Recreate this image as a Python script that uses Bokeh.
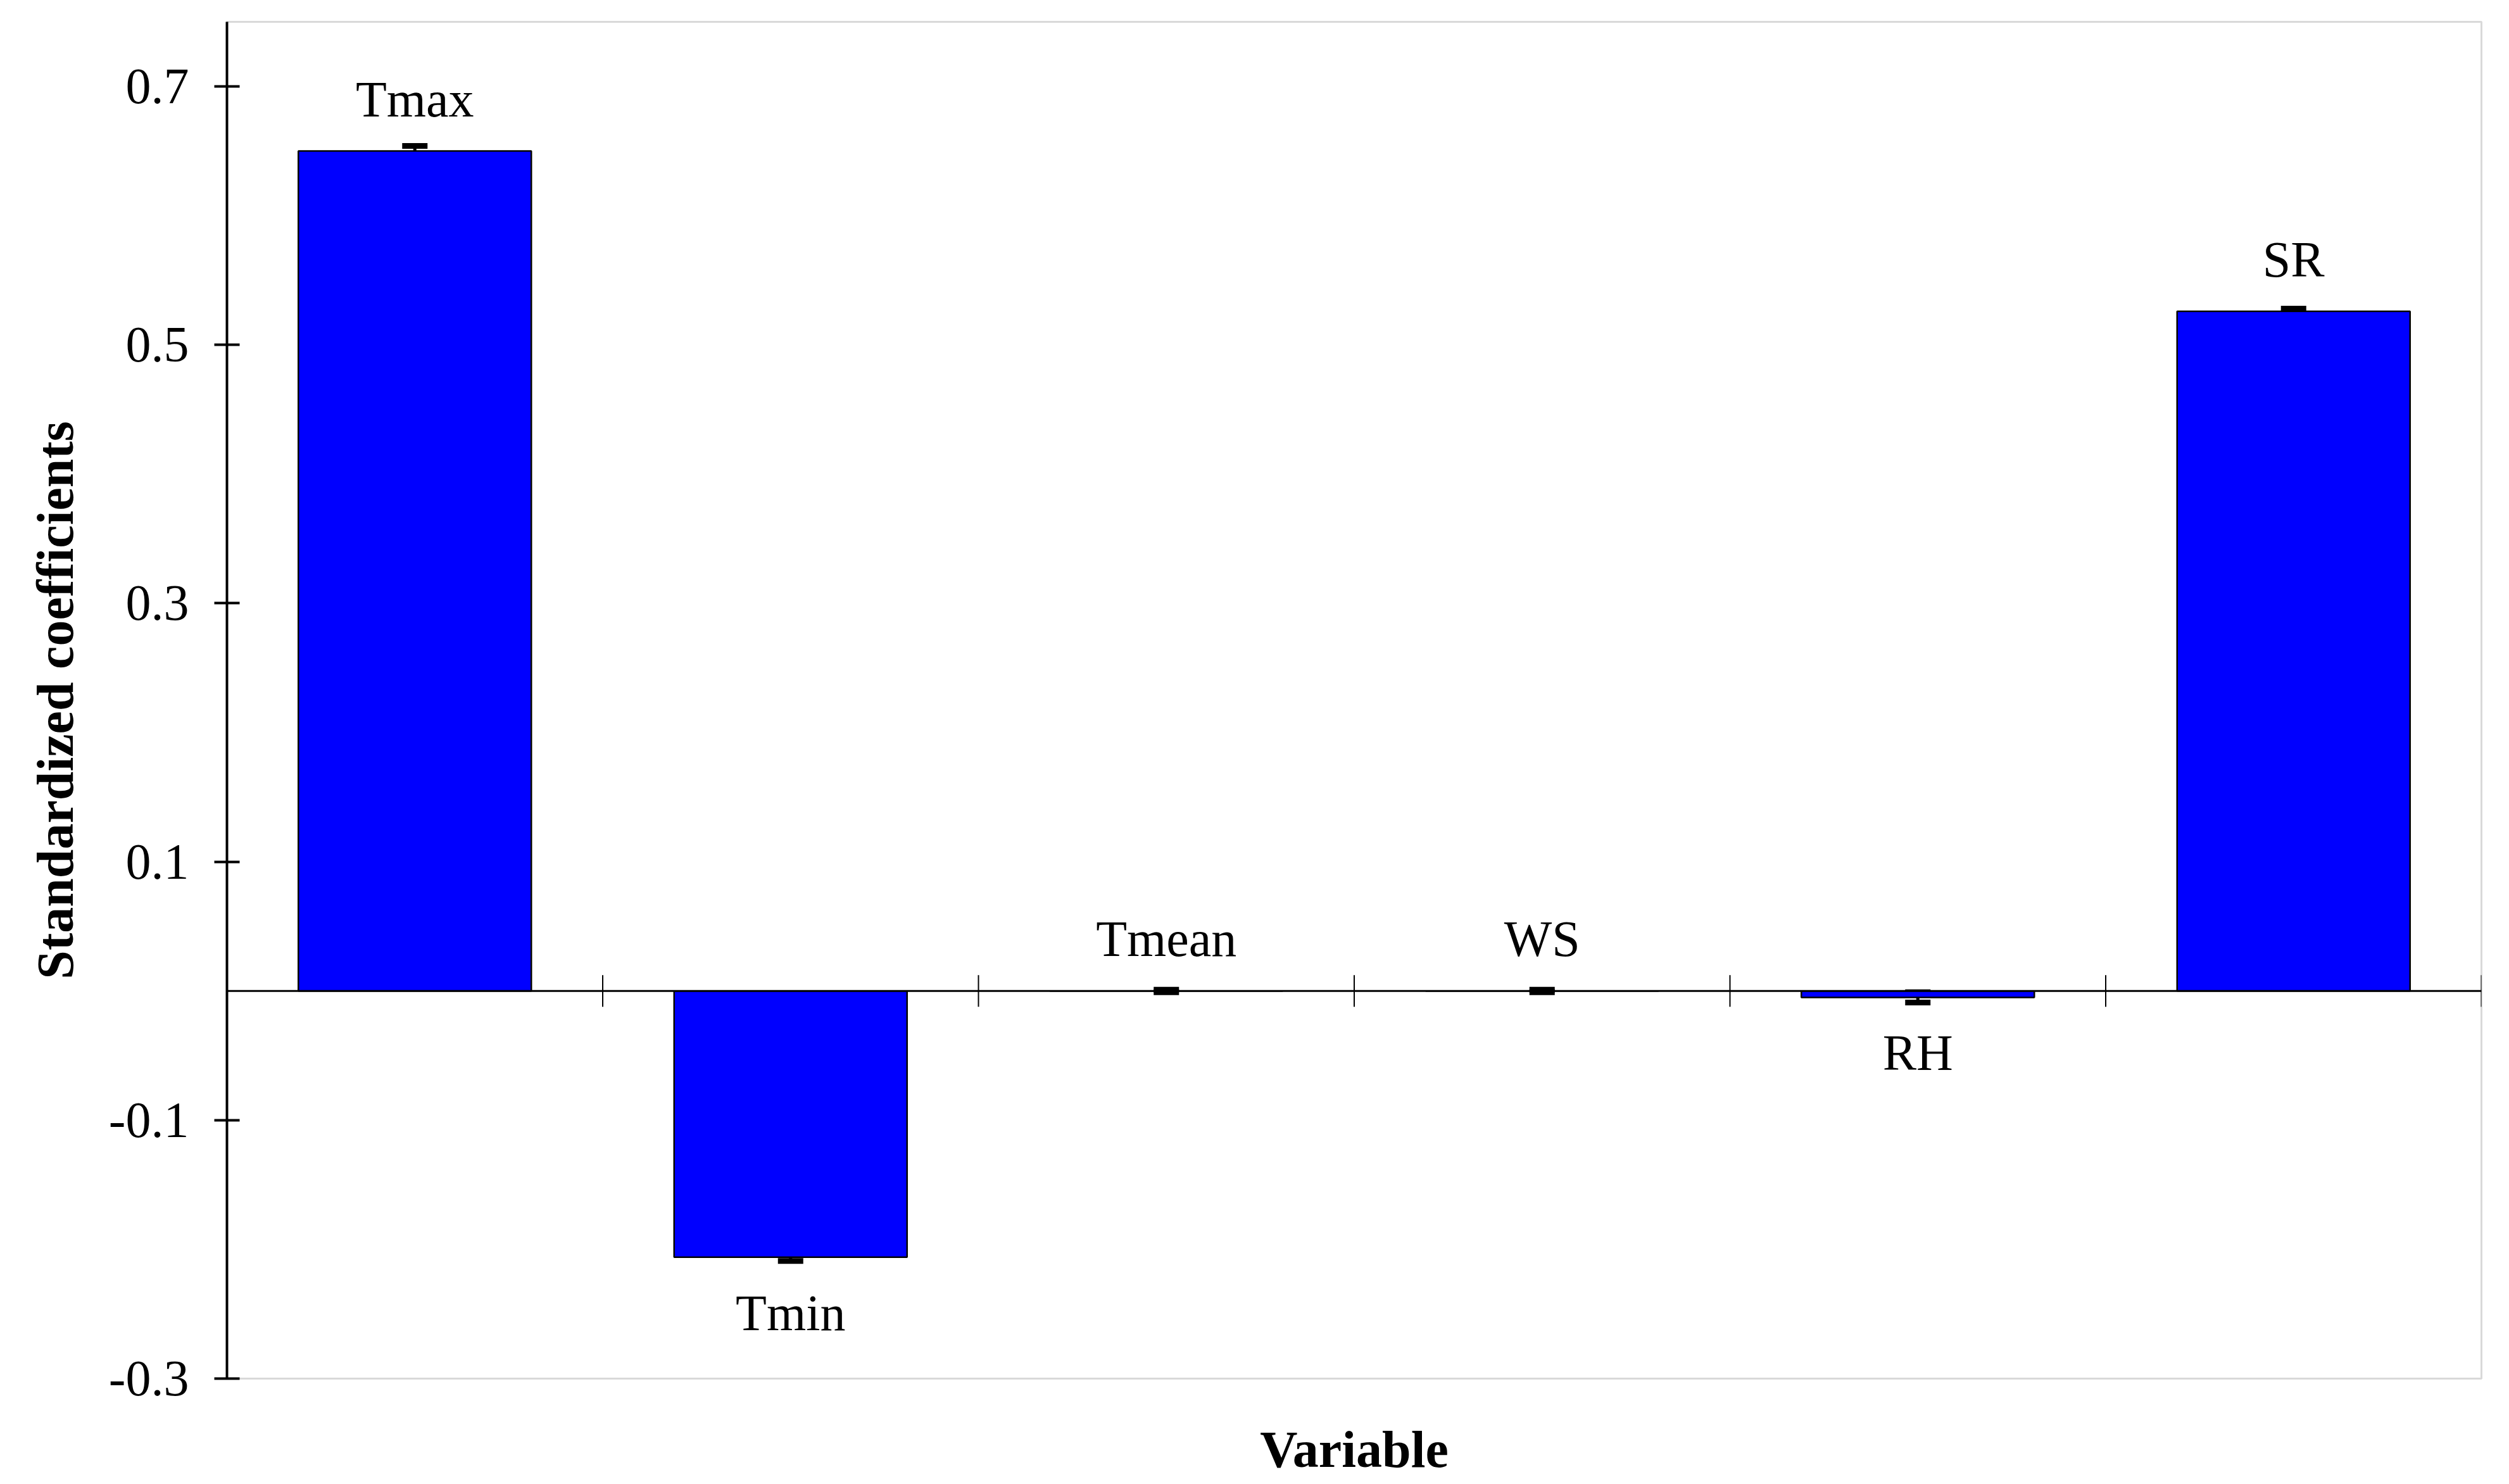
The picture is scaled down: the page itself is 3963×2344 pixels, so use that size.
import numpy as np
from bokeh.plotting import figure
from bokeh.models import (ColumnDataSource, Range1d, FixedTicker, Span, Whisker, TeeHead)
from bokeh.core.properties import value
from bokeh.embed import file_html
from bokeh.resources import INLINE

# ---- data ----
categories = ["Tmax", "Tmin", "Tmean", "WS", "RH", "SR"]
coefficients = [0.650, -0.206, 0.0, 0.0, -0.005, 0.526]
std_errors = [0.004, 0.003, 0.001, 0.001, 0.004, 0.002]
y_ticks = [-0.3, -0.1, 0.1, 0.3, 0.5, 0.7]
y_tick_labels = ["-0.3", "-0.1", "0.1", "0.3", "0.5", "0.7"]

FONT = "Liberation Serif"

xs = np.arange(len(categories)) + 0.5
vals = np.array(coefficients)
errs = np.array(std_errors)
offsets = np.where(vals >= 0, -82, 88)

src = ColumnDataSource(dict(
    x=xs, top=vals, upper=vals + errs, lower=vals - errs,
    label=categories, yoff=offsets,
))

p = figure(
    output_backend="svg", toolbar_location=None,
    frame_width=3561, frame_height=2143,
    min_border_left=358, min_border_top=34, min_border_right=25, min_border_bottom=150,
    x_range=Range1d(0, len(categories)), y_range=Range1d(-0.3, 0.75),
    background_fill_color="white", border_fill_color="white",
)
p.outline_line_color = "#d9d9d9"
p.outline_line_width = 3
p.grid.visible = False

# y axis
ya = p.yaxis[0]
ya.ticker = FixedTicker(ticks=y_ticks)
ya.major_label_overrides = {t: s for t, s in zip(y_ticks, y_tick_labels)}
ya.axis_line_width = 4
ya.axis_line_color = "black"
ya.major_tick_line_width = 4
ya.major_tick_in = 20
ya.major_tick_out = 20
ya.minor_tick_line_color = None
ya.major_label_text_font = FONT
ya.major_label_text_font_size = "80px"
ya.major_label_text_color = "black"
ya.major_label_standoff = 40
ya.axis_label = "Standardized coefficients"
ya.axis_label_text_font = FONT
ya.axis_label_text_font_size = "82px"
ya.axis_label_text_font_style = "bold"
ya.axis_label_text_color = "black"
ya.axis_label_standoff = 36

# x axis (title only)
xa = p.xaxis[0]
xa.ticker = FixedTicker(ticks=[])
xa.axis_line_color = None
xa.major_tick_line_color = None
xa.minor_tick_line_color = None
xa.axis_label = "Variable"
xa.axis_label_text_font = FONT
xa.axis_label_text_font_size = "82px"
xa.axis_label_text_font_style = "bold"
xa.axis_label_text_color = "black"
xa.axis_label_standoff = 66

# bars
p.vbar(x="x", top="top", bottom=0, width=0.62, source=src,
       fill_color="#0000FF", line_color="black", line_width=2.5)

# zero line with category boundary ticks
p.add_layout(Span(location=0, dimension="width", line_color="black", line_width=3))
p.scatter(x=np.arange(1, len(categories) + 1), y=np.zeros(len(categories)),
          marker="dash", angle=np.pi / 2, size=50, line_color="black", line_width=2)

# error bars
w = Whisker(source=src, base="x", upper="upper", lower="lower",
            line_color="black", line_width=5,
            upper_head=TeeHead(size=40, line_width=9, line_color="black"),
            lower_head=TeeHead(size=40, line_width=9, line_color="black"))
p.add_layout(w)

# labels
p.text(x="x", y="top", text="label", y_offset="yoff", source=src,
       text_align="center", text_baseline="middle",
       text_font=value(FONT), text_font_size="80px", text_color="black")

open("out.html", "w").write(file_html(p, INLINE))
